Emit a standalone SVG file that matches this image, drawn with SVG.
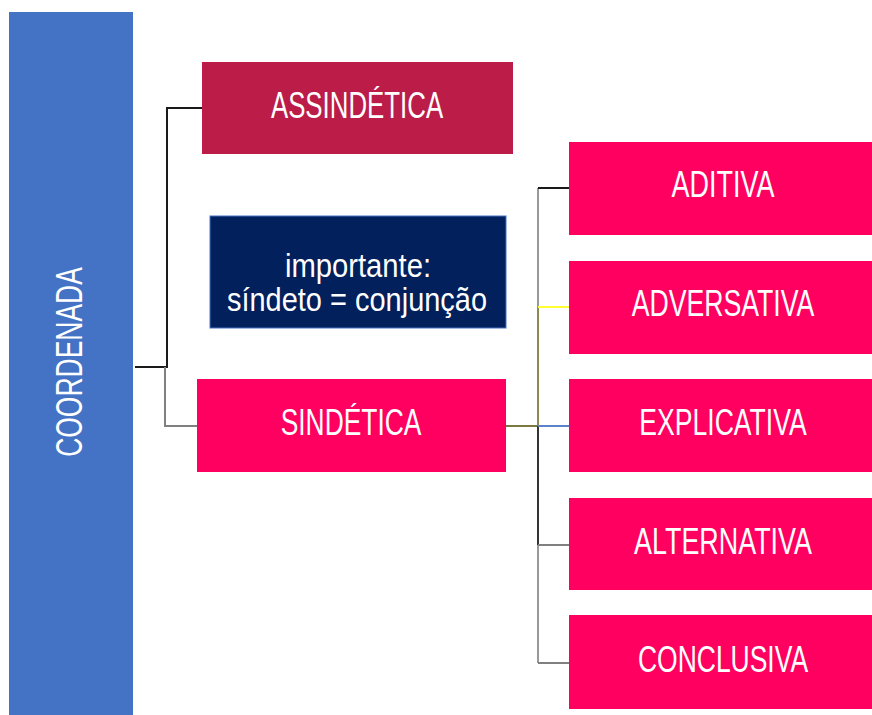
<svg xmlns="http://www.w3.org/2000/svg" width="872" height="715" viewBox="0 0 872 715">
<style>
.lbl{font-family:"Liberation Sans",Arial,sans-serif;font-size:37px;fill:#ffffff;text-anchor:middle}
.note{font-family:"Liberation Sans",Arial,sans-serif;font-size:33px;fill:#ffffff;text-anchor:middle}
.pink{fill:#ff0060}
.c{fill:none;stroke-width:2}
</style>
<rect width="872" height="715" fill="#ffffff"/>
<g id="connectors">
<polyline class="c" stroke="#1a1a1a" points="135,367 167,367 167,108 202,108"/>
<polyline class="c" stroke="#808080" points="165,367 165,426 198,426"/>
<line class="c" stroke="#7a7a40" x1="506" y1="426" x2="538" y2="426" stroke-width="3"/>
<line class="c" stroke="#999999" x1="538" y1="188" x2="538" y2="307"/>
<line class="c" stroke="#8a8a50" x1="538" y1="307" x2="538" y2="426"/>
<line class="c" stroke="#333333" x1="538" y1="426" x2="538" y2="545"/>
<line class="c" stroke="#999999" x1="538" y1="545" x2="538" y2="663"/>
<line class="c" stroke="#1a1a1a" x1="538" y1="188" x2="569" y2="188"/>
<line class="c" stroke="#ffff33" x1="538" y1="307" x2="569" y2="307"/>
<line class="c" stroke="#5b82c8" x1="538" y1="426" x2="569" y2="426"/>
<line class="c" stroke="#808080" x1="538" y1="545" x2="569" y2="545"/>
<line class="c" stroke="#808080" x1="538" y1="663" x2="569" y2="663"/>
</g>
<g id="coordenada">
<rect x="9" y="12" width="124" height="703" fill="#4472c4"/>
<text class="lbl" transform="translate(82,362) rotate(-90) scale(0.7,1)" textLength="271" lengthAdjust="spacingAndGlyphs">COORDENADA</text>
</g>
<g id="assindetica">
<rect x="202" y="62" width="311" height="92" fill="#bb1c48"/>
<text class="lbl" transform="translate(357,118) scale(0.7,1)" textLength="246" lengthAdjust="spacingAndGlyphs">ASSINDÉTICA</text>
</g>
<g id="importante">
<rect x="210" y="216" width="296" height="112" fill="#02205c" stroke="#4472c4" stroke-width="1"/>
<text class="note" transform="translate(358,277) scale(0.85,1)" textLength="172" lengthAdjust="spacingAndGlyphs">importante:</text>
<text class="note" transform="translate(357,311) scale(0.85,1)" textLength="306" lengthAdjust="spacingAndGlyphs">síndeto = conjunção</text>
</g>
<g id="sindetica">
<rect class="pink" x="197" y="379" width="309" height="93"/>
<text class="lbl" transform="translate(351,435) scale(0.7,1)" textLength="201" lengthAdjust="spacingAndGlyphs">SINDÉTICA</text>
</g>
<g id="aditiva">
<rect class="pink" x="569" y="142" width="303" height="93"/>
<text class="lbl" transform="translate(723,197) scale(0.7,1)" textLength="147" lengthAdjust="spacingAndGlyphs">ADITIVA</text>
</g>
<g id="adversativa">
<rect class="pink" x="569" y="261" width="303" height="93"/>
<text class="lbl" transform="translate(723,316) scale(0.7,1)" textLength="261" lengthAdjust="spacingAndGlyphs">ADVERSATIVA</text>
</g>
<g id="explicativa">
<rect class="pink" x="569" y="379" width="303" height="93"/>
<text class="lbl" transform="translate(723,435) scale(0.7,1)" textLength="239" lengthAdjust="spacingAndGlyphs">EXPLICATIVA</text>
</g>
<g id="alternativa">
<rect class="pink" x="569" y="498" width="303" height="92"/>
<text class="lbl" transform="translate(723,554) scale(0.7,1)" textLength="254" lengthAdjust="spacingAndGlyphs">ALTERNATIVA</text>
</g>
<g id="conclusiva">
<rect class="pink" x="569" y="615" width="303" height="94"/>
<text class="lbl" transform="translate(723,672) scale(0.7,1)" textLength="243" lengthAdjust="spacingAndGlyphs">CONCLUSIVA</text>
</g>
</svg>
